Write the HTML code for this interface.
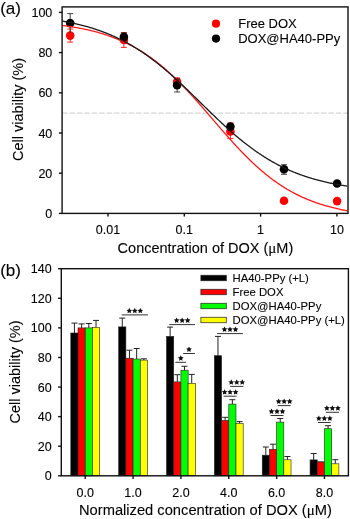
<!DOCTYPE html>
<html><head><meta charset="utf-8"><style>
html,body{margin:0;padding:0;background:#fff;}
svg{display:block;will-change:transform;}
text{font-family:"Liberation Sans", sans-serif;fill:#000;stroke:#000;stroke-width:0.1px;}
</style></head><body>
<svg width="350" height="519" viewBox="0 0 350 519">
<rect x="0" y="0" width="350" height="519" fill="#fff"/>
<line x1="62.1" y1="113.1" x2="348.0" y2="113.1" stroke="#d6d6d6" stroke-width="1.2" stroke-dasharray="5.5 1.9"/>
<g stroke="#ff0000" stroke-width="0.85"><line x1="70.2" y1="29.0" x2="70.2" y2="42.1"/><line x1="67.2" y1="29.0" x2="73.2" y2="29.0"/><line x1="67.2" y1="42.1" x2="73.2" y2="42.1"/></g>
<circle cx="70.2" cy="35.6" r="4.3" fill="#ff0000"/>
<g stroke="#ff0000" stroke-width="0.85"><line x1="123.9" y1="32.6" x2="123.9" y2="47.4"/><line x1="120.9" y1="32.6" x2="126.9" y2="32.6"/><line x1="120.9" y1="47.4" x2="126.9" y2="47.4"/></g>
<circle cx="123.9" cy="40.0" r="4.3" fill="#ff0000"/>
<g stroke="#ff0000" stroke-width="0.85"><line x1="177.1" y1="78.0" x2="177.1" y2="84.0"/><line x1="174.1" y1="78.0" x2="180.1" y2="78.0"/><line x1="174.1" y1="84.0" x2="180.1" y2="84.0"/></g>
<circle cx="177.1" cy="81.9" r="4.3" fill="#ff0000"/>
<g stroke="#ff0000" stroke-width="0.85"><line x1="230.4" y1="122.9" x2="230.4" y2="138.6"/><line x1="227.4" y1="122.9" x2="233.4" y2="122.9"/><line x1="227.4" y1="138.6" x2="233.4" y2="138.6"/></g>
<circle cx="230.4" cy="131.5" r="4.3" fill="#ff0000"/>
<g stroke="#ff0000" stroke-width="0.85"><line x1="284.0" y1="200.7" x2="284.0" y2="200.7"/><line x1="281.0" y1="200.7" x2="287.0" y2="200.7"/><line x1="281.0" y1="200.7" x2="287.0" y2="200.7"/></g>
<circle cx="284.0" cy="200.7" r="4.3" fill="#ff0000"/>
<g stroke="#ff0000" stroke-width="0.85"><line x1="337.1" y1="201.1" x2="337.1" y2="201.1"/><line x1="334.1" y1="201.1" x2="340.1" y2="201.1"/><line x1="334.1" y1="201.1" x2="340.1" y2="201.1"/></g>
<circle cx="337.1" cy="201.1" r="4.3" fill="#ff0000"/>
<g stroke="#222" stroke-width="0.85"><line x1="70.2" y1="13.6" x2="70.2" y2="33.0"/><line x1="67.2" y1="13.6" x2="73.2" y2="13.6"/></g>
<circle cx="70.2" cy="23.1" r="4.3" fill="#000"/>
<g stroke="#222" stroke-width="0.85"><line x1="123.9" y1="33.0" x2="123.9" y2="40.5"/><line x1="120.9" y1="33.0" x2="126.9" y2="33.0"/><line x1="120.9" y1="40.5" x2="126.9" y2="40.5"/></g>
<circle cx="123.9" cy="36.9" r="4.3" fill="#000"/>
<g stroke="#222" stroke-width="0.85"><line x1="177.1" y1="79.0" x2="177.1" y2="92.0"/><line x1="174.1" y1="79.0" x2="180.1" y2="79.0"/><line x1="174.1" y1="92.0" x2="180.1" y2="92.0"/></g>
<circle cx="177.1" cy="85.3" r="4.3" fill="#000"/>
<g stroke="#222" stroke-width="0.85"><line x1="230.4" y1="124.0" x2="230.4" y2="129.0"/><line x1="227.4" y1="124.0" x2="233.4" y2="124.0"/><line x1="227.4" y1="129.0" x2="233.4" y2="129.0"/></g>
<circle cx="230.4" cy="126.6" r="4.3" fill="#000"/>
<g stroke="#222" stroke-width="0.85"><line x1="284.0" y1="164.7" x2="284.0" y2="174.3"/><line x1="281.0" y1="164.7" x2="287.0" y2="164.7"/><line x1="281.0" y1="174.3" x2="287.0" y2="174.3"/></g>
<circle cx="284.0" cy="169.3" r="4.3" fill="#000"/>
<g stroke="#222" stroke-width="0.85"><line x1="337.1" y1="183.5" x2="337.1" y2="183.5"/><line x1="334.1" y1="183.5" x2="340.1" y2="183.5"/><line x1="334.1" y1="183.5" x2="340.1" y2="183.5"/></g>
<circle cx="337.1" cy="183.5" r="4.3" fill="#000"/>
<path d="M62.1,25.41 L63.1,25.54 L64.1,25.68 L65.1,25.81 L66.1,25.95 L67.1,26.10 L68.1,26.24 L69.1,26.39 L70.1,26.55 L71.1,26.70 L72.1,26.86 L73.1,27.03 L74.1,27.20 L75.1,27.37 L76.1,27.54 L77.1,27.72 L78.1,27.90 L79.1,28.09 L80.1,28.28 L81.1,28.47 L82.1,28.67 L83.1,28.88 L84.1,29.08 L85.1,29.29 L86.1,29.51 L87.1,29.73 L88.1,29.96 L89.1,30.19 L90.1,30.42 L91.1,30.66 L92.1,30.91 L93.1,31.16 L94.1,31.41 L95.1,31.67 L96.1,31.94 L97.1,32.21 L98.1,32.49 L99.1,32.77 L100.1,33.06 L101.1,33.36 L102.1,33.66 L103.1,33.96 L104.1,34.28 L105.1,34.60 L106.1,34.92 L107.1,35.25 L108.1,35.59 L109.1,35.94 L110.1,36.29 L111.1,36.65 L112.1,37.02 L113.1,37.39 L114.1,37.77 L115.1,38.16 L116.1,38.55 L117.1,38.96 L118.1,39.37 L119.1,39.79 L120.1,40.21 L121.1,40.65 L122.1,41.09 L123.1,41.54 L124.1,42.00 L125.1,42.47 L126.1,42.94 L127.1,43.43 L128.1,43.92 L129.1,44.42 L130.1,44.93 L131.1,45.45 L132.1,45.98 L133.1,46.52 L134.1,47.07 L135.1,47.62 L136.1,48.19 L137.1,48.77 L138.1,49.35 L139.1,49.95 L140.1,50.55 L141.1,51.16 L142.1,51.79 L143.1,52.42 L144.1,53.07 L145.1,53.72 L146.1,54.39 L147.1,55.06 L148.1,55.75 L149.1,56.44 L150.1,57.15 L151.1,57.86 L152.1,58.59 L153.1,59.33 L154.1,60.07 L155.1,60.83 L156.1,61.60 L157.1,62.38 L158.1,63.17 L159.1,63.97 L160.1,64.78 L161.1,65.60 L162.1,66.43 L163.1,67.27 L164.1,68.12 L165.1,68.98 L166.1,69.85 L167.1,70.73 L168.1,71.63 L169.1,72.53 L170.1,73.44 L171.1,74.36 L172.1,75.30 L173.1,76.24 L174.1,77.19 L175.1,78.15 L176.1,79.12 L177.1,80.10 L178.1,81.09 L179.1,82.08 L180.1,83.09 L181.1,84.10 L182.1,85.12 L183.1,86.16 L184.1,87.19 L185.1,88.24 L186.1,89.30 L187.1,90.36 L188.1,91.43 L189.1,92.50 L190.1,93.59 L191.1,94.68 L192.1,95.77 L193.1,96.87 L194.1,97.98 L195.1,99.09 L196.1,100.21 L197.1,101.34 L198.1,102.47 L199.1,103.60 L200.1,104.74 L201.1,105.88 L202.1,107.02 L203.1,108.17 L204.1,109.32 L205.1,110.47 L206.1,111.63 L207.1,112.79 L208.1,113.95 L209.1,115.11 L210.1,116.27 L211.1,117.43 L212.1,118.60 L213.1,119.76 L214.1,120.93 L215.1,122.09 L216.1,123.25 L217.1,124.42 L218.1,125.58 L219.1,126.73 L220.1,127.89 L221.1,129.05 L222.1,130.20 L223.1,131.35 L224.1,132.49 L225.1,133.63 L226.1,134.77 L227.1,135.91 L228.1,137.04 L229.1,138.16 L230.1,139.28 L231.1,140.40 L232.1,141.51 L233.1,142.61 L234.1,143.71 L235.1,144.80 L236.1,145.88 L237.1,146.96 L238.1,148.03 L239.1,149.10 L240.1,150.15 L241.1,151.20 L242.1,152.25 L243.1,153.28 L244.1,154.30 L245.1,155.32 L246.1,156.33 L247.1,157.33 L248.1,158.32 L249.1,159.30 L250.1,160.27 L251.1,161.24 L252.1,162.19 L253.1,163.14 L254.1,164.07 L255.1,165.00 L256.1,165.91 L257.1,166.82 L258.1,167.71 L259.1,168.60 L260.1,169.47 L261.1,170.34 L262.1,171.19 L263.1,172.04 L264.1,172.87 L265.1,173.69 L266.1,174.51 L267.1,175.31 L268.1,176.10 L269.1,176.88 L270.1,177.65 L271.1,178.41 L272.1,179.17 L273.1,179.91 L274.1,180.63 L275.1,181.35 L276.1,182.06 L277.1,182.76 L278.1,183.45 L279.1,184.13 L280.1,184.79 L281.1,185.45 L282.1,186.10 L283.1,186.74 L284.1,187.36 L285.1,187.98 L286.1,188.59 L287.1,189.19 L288.1,189.78 L289.1,190.35 L290.1,190.92 L291.1,191.48 L292.1,192.03 L293.1,192.57 L294.1,193.11 L295.1,193.63 L296.1,194.14 L297.1,194.65 L298.1,195.14 L299.1,195.63 L300.1,196.11 L301.1,196.58 L302.1,197.04 L303.1,197.49 L304.1,197.94 L305.1,198.37 L306.1,198.80 L307.1,199.22 L308.1,199.64 L309.1,200.04 L310.1,200.44 L311.1,200.83 L312.1,201.21 L313.1,201.59 L314.1,201.96 L315.1,202.32 L316.1,202.67 L317.1,203.02 L318.1,203.36 L319.1,203.70 L320.1,204.02 L321.1,204.35 L322.1,204.66 L323.1,204.97 L324.1,205.27 L325.1,205.57 L326.1,205.86 L327.1,206.14 L328.1,206.42 L329.1,206.70 L330.1,206.96 L331.1,207.23 L332.1,207.48 L333.1,207.74 L334.1,207.98 L335.1,208.22 L336.1,208.46 L337.1,208.69 L338.1,208.92 L339.1,209.14 L340.1,209.36 L341.1,209.57 L342.1,209.78 L343.1,209.99 L344.1,210.19 L345.1,210.38 L346.1,210.57 L347.1,210.76" fill="none" stroke="#ff1a1a" stroke-width="1.3"/>
<path d="M62.1,21.00 L63.1,21.18 L64.1,21.36 L65.1,21.55 L66.1,21.74 L67.1,21.93 L68.1,22.12 L69.1,22.32 L70.1,22.53 L71.1,22.74 L72.1,22.95 L73.1,23.16 L74.1,23.38 L75.1,23.61 L76.1,23.84 L77.1,24.07 L78.1,24.31 L79.1,24.55 L80.1,24.79 L81.1,25.04 L82.1,25.30 L83.1,25.56 L84.1,25.83 L85.1,26.10 L86.1,26.37 L87.1,26.65 L88.1,26.94 L89.1,27.23 L90.1,27.53 L91.1,27.83 L92.1,28.13 L93.1,28.45 L94.1,28.77 L95.1,29.09 L96.1,29.42 L97.1,29.76 L98.1,30.10 L99.1,30.44 L100.1,30.80 L101.1,31.16 L102.1,31.52 L103.1,31.90 L104.1,32.28 L105.1,32.66 L106.1,33.05 L107.1,33.45 L108.1,33.86 L109.1,34.27 L110.1,34.69 L111.1,35.11 L112.1,35.55 L113.1,35.99 L114.1,36.43 L115.1,36.89 L116.1,37.35 L117.1,37.82 L118.1,38.29 L119.1,38.78 L120.1,39.27 L121.1,39.76 L122.1,40.27 L123.1,40.78 L124.1,41.31 L125.1,41.83 L126.1,42.37 L127.1,42.92 L128.1,43.47 L129.1,44.03 L130.1,44.60 L131.1,45.17 L132.1,45.76 L133.1,46.35 L134.1,46.95 L135.1,47.56 L136.1,48.18 L137.1,48.80 L138.1,49.44 L139.1,50.08 L140.1,50.73 L141.1,51.38 L142.1,52.05 L143.1,52.72 L144.1,53.41 L145.1,54.10 L146.1,54.80 L147.1,55.50 L148.1,56.22 L149.1,56.94 L150.1,57.67 L151.1,58.41 L152.1,59.16 L153.1,59.91 L154.1,60.67 L155.1,61.44 L156.1,62.22 L157.1,63.01 L158.1,63.80 L159.1,64.60 L160.1,65.41 L161.1,66.22 L162.1,67.04 L163.1,67.87 L164.1,68.71 L165.1,69.55 L166.1,70.40 L167.1,71.26 L168.1,72.12 L169.1,72.99 L170.1,73.87 L171.1,74.75 L172.1,75.64 L173.1,76.53 L174.1,77.43 L175.1,78.34 L176.1,79.25 L177.1,80.16 L178.1,81.08 L179.1,82.01 L180.1,82.94 L181.1,83.87 L182.1,84.81 L183.1,85.75 L184.1,86.70 L185.1,87.65 L186.1,88.60 L187.1,89.56 L188.1,90.52 L189.1,91.49 L190.1,92.45 L191.1,93.42 L192.1,94.39 L193.1,95.36 L194.1,96.34 L195.1,97.31 L196.1,98.29 L197.1,99.27 L198.1,100.25 L199.1,101.23 L200.1,102.21 L201.1,103.19 L202.1,104.17 L203.1,105.15 L204.1,106.12 L205.1,107.10 L206.1,108.08 L207.1,109.06 L208.1,110.03 L209.1,111.01 L210.1,111.98 L211.1,112.95 L212.1,113.91 L213.1,114.88 L214.1,115.84 L215.1,116.80 L216.1,117.75 L217.1,118.71 L218.1,119.65 L219.1,120.60 L220.1,121.54 L221.1,122.48 L222.1,123.41 L223.1,124.34 L224.1,125.26 L225.1,126.18 L226.1,127.09 L227.1,128.00 L228.1,128.90 L229.1,129.80 L230.1,130.69 L231.1,131.57 L232.1,132.45 L233.1,133.32 L234.1,134.19 L235.1,135.05 L236.1,135.90 L237.1,136.75 L238.1,137.59 L239.1,138.42 L240.1,139.25 L241.1,140.07 L242.1,140.88 L243.1,141.68 L244.1,142.48 L245.1,143.27 L246.1,144.05 L247.1,144.82 L248.1,145.59 L249.1,146.35 L250.1,147.10 L251.1,147.84 L252.1,148.58 L253.1,149.30 L254.1,150.02 L255.1,150.73 L256.1,151.44 L257.1,152.13 L258.1,152.82 L259.1,153.49 L260.1,154.16 L261.1,154.83 L262.1,155.48 L263.1,156.13 L264.1,156.76 L265.1,157.39 L266.1,158.01 L267.1,158.63 L268.1,159.23 L269.1,159.83 L270.1,160.42 L271.1,161.00 L272.1,161.57 L273.1,162.13 L274.1,162.69 L275.1,163.24 L276.1,163.78 L277.1,164.31 L278.1,164.84 L279.1,165.35 L280.1,165.86 L281.1,166.37 L282.1,166.86 L283.1,167.35 L284.1,167.83 L285.1,168.30 L286.1,168.76 L287.1,169.22 L288.1,169.67 L289.1,170.12 L290.1,170.55 L291.1,170.98 L292.1,171.40 L293.1,171.82 L294.1,172.23 L295.1,172.63 L296.1,173.02 L297.1,173.41 L298.1,173.79 L299.1,174.17 L300.1,174.54 L301.1,174.90 L302.1,175.26 L303.1,175.61 L304.1,175.96 L305.1,176.29 L306.1,176.63 L307.1,176.95 L308.1,177.27 L309.1,177.59 L310.1,177.90 L311.1,178.20 L312.1,178.50 L313.1,178.80 L314.1,179.09 L315.1,179.37 L316.1,179.65 L317.1,179.92 L318.1,180.19 L319.1,180.45 L320.1,180.71 L321.1,180.96 L322.1,181.21 L323.1,181.45 L324.1,181.69 L325.1,181.93 L326.1,182.16 L327.1,182.39 L328.1,182.61 L329.1,182.83 L330.1,183.04 L331.1,183.25 L332.1,183.46 L333.1,183.66 L334.1,183.86 L335.1,184.05 L336.1,184.24 L337.1,184.43 L338.1,184.61 L339.1,184.79 L340.1,184.96 L341.1,185.14 L342.1,185.31 L343.1,185.47 L344.1,185.64 L345.1,185.79 L346.1,185.95 L347.1,186.10" fill="none" stroke="#1a1a1a" stroke-width="1.3"/>
<rect x="62.1" y="6.9" width="285.9" height="206.5" fill="none" stroke="#111" stroke-width="1.4"/>
<line x1="58.9" y1="213.40" x2="62.1" y2="213.40" stroke="#111" stroke-width="1.4"/>
<text x="52.3" y="217.90" text-anchor="end" font-size="12.5">0</text>
<line x1="58.9" y1="173.20" x2="62.1" y2="173.20" stroke="#111" stroke-width="1.4"/>
<text x="52.3" y="177.70" text-anchor="end" font-size="12.5">20</text>
<line x1="58.9" y1="133.00" x2="62.1" y2="133.00" stroke="#111" stroke-width="1.4"/>
<text x="52.3" y="137.50" text-anchor="end" font-size="12.5">40</text>
<line x1="58.9" y1="92.80" x2="62.1" y2="92.80" stroke="#111" stroke-width="1.4"/>
<text x="52.3" y="97.30" text-anchor="end" font-size="12.5">60</text>
<line x1="58.9" y1="52.60" x2="62.1" y2="52.60" stroke="#111" stroke-width="1.4"/>
<text x="52.3" y="57.10" text-anchor="end" font-size="12.5">80</text>
<line x1="58.9" y1="12.40" x2="62.1" y2="12.40" stroke="#111" stroke-width="1.4"/>
<text x="52.3" y="16.90" text-anchor="end" font-size="12.5">100</text>
<line x1="108.00" y1="213.4" x2="108.00" y2="216.6" stroke="#111" stroke-width="1.4"/>
<text x="108.00" y="234.4" text-anchor="middle" font-size="12.5">0.01</text>
<line x1="184.30" y1="213.4" x2="184.30" y2="216.6" stroke="#111" stroke-width="1.4"/>
<text x="184.30" y="234.4" text-anchor="middle" font-size="12.5">0.1</text>
<line x1="260.60" y1="213.4" x2="260.60" y2="216.6" stroke="#111" stroke-width="1.4"/>
<text x="260.60" y="234.4" text-anchor="middle" font-size="12.5">1</text>
<line x1="336.90" y1="213.4" x2="336.90" y2="216.6" stroke="#111" stroke-width="1.4"/>
<text x="336.90" y="234.4" text-anchor="middle" font-size="12.5">10</text>
<text x="117.6" y="252.9" font-size="14.5">Concentration of DOX (<tspan font-family="Liberation Serif" font-size="15">μ</tspan>M)</text>
<text transform="translate(23.2,109.5) rotate(-90)" text-anchor="middle" font-size="14.5">Cell viability (%)</text>
<text x="0.2" y="13.6" font-size="17">(a)</text>
<circle cx="216" cy="23.7" r="4.1" fill="#ff0000"/>
<circle cx="216" cy="38.6" r="4.1" fill="#000"/>
<text x="238.2" y="27.8" font-size="13">Free DOX</text>
<text x="238.2" y="42.6" font-size="13">DOX@HA40-PPy</text>
<g stroke="#222" stroke-width="1"><line x1="74.42" y1="323.1" x2="74.42" y2="333.0"/><line x1="71.42" y1="323.1" x2="77.42" y2="323.1"/></g>
<rect x="70.82" y="333.0" width="7.2" height="142.80" fill="#000000" stroke="#222" stroke-width="0.6"/>
<g stroke="#222" stroke-width="1"><line x1="81.62" y1="323.9" x2="81.62" y2="327.9"/><line x1="78.62" y1="323.9" x2="84.62" y2="323.9"/></g>
<rect x="78.02" y="327.9" width="7.2" height="147.90" fill="#ff0000" stroke="#222" stroke-width="0.6"/>
<g stroke="#222" stroke-width="1"><line x1="88.82" y1="323.5" x2="88.82" y2="327.9"/><line x1="85.82" y1="323.5" x2="91.82" y2="323.5"/></g>
<rect x="85.22" y="327.9" width="7.2" height="147.90" fill="#00ff00" stroke="#222" stroke-width="0.6"/>
<g stroke="#222" stroke-width="1"><line x1="96.02" y1="320.4" x2="96.02" y2="327.3"/><line x1="93.02" y1="320.4" x2="99.02" y2="320.4"/></g>
<rect x="92.42" y="327.3" width="7.2" height="148.50" fill="#ffff00" stroke="#222" stroke-width="0.6"/>
<g stroke="#222" stroke-width="1"><line x1="122.27" y1="318.1" x2="122.27" y2="326.9"/><line x1="119.27" y1="318.1" x2="125.27" y2="318.1"/></g>
<rect x="118.67" y="326.9" width="7.2" height="148.90" fill="#000000" stroke="#222" stroke-width="0.6"/>
<g stroke="#222" stroke-width="1"><line x1="129.47" y1="350.2" x2="129.47" y2="358.2"/><line x1="126.47" y1="350.2" x2="132.47" y2="350.2"/></g>
<rect x="125.87" y="358.2" width="7.2" height="117.60" fill="#ff0000" stroke="#222" stroke-width="0.6"/>
<g stroke="#222" stroke-width="1"><line x1="136.67" y1="348.5" x2="136.67" y2="359.0"/><line x1="133.67" y1="348.5" x2="139.67" y2="348.5"/></g>
<rect x="133.07" y="359.0" width="7.2" height="116.80" fill="#00ff00" stroke="#222" stroke-width="0.6"/>
<g stroke="#222" stroke-width="1"><line x1="143.87" y1="358.8" x2="143.87" y2="360.1"/><line x1="140.87" y1="358.8" x2="146.87" y2="358.8"/></g>
<rect x="140.27" y="360.1" width="7.2" height="115.70" fill="#ffff00" stroke="#222" stroke-width="0.6"/>
<g stroke="#222" stroke-width="1"><line x1="170.12" y1="327.1" x2="170.12" y2="336.4"/><line x1="167.12" y1="327.1" x2="173.12" y2="327.1"/></g>
<rect x="166.52" y="336.4" width="7.2" height="139.40" fill="#000000" stroke="#222" stroke-width="0.6"/>
<g stroke="#222" stroke-width="1"><line x1="177.32" y1="374.7" x2="177.32" y2="381.9"/><line x1="174.32" y1="374.7" x2="180.32" y2="374.7"/></g>
<rect x="173.72" y="381.9" width="7.2" height="93.90" fill="#ff0000" stroke="#222" stroke-width="0.6"/>
<g stroke="#222" stroke-width="1"><line x1="184.52" y1="366.3" x2="184.52" y2="370.2"/><line x1="181.52" y1="366.3" x2="187.52" y2="366.3"/></g>
<rect x="180.92" y="370.2" width="7.2" height="105.60" fill="#00ff00" stroke="#222" stroke-width="0.6"/>
<g stroke="#222" stroke-width="1"><line x1="191.72" y1="374.4" x2="191.72" y2="383.3"/><line x1="188.72" y1="374.4" x2="194.72" y2="374.4"/></g>
<rect x="188.12" y="383.3" width="7.2" height="92.50" fill="#ffff00" stroke="#222" stroke-width="0.6"/>
<g stroke="#222" stroke-width="1"><line x1="217.97" y1="336.4" x2="217.97" y2="355.7"/><line x1="214.97" y1="336.4" x2="220.97" y2="336.4"/></g>
<rect x="214.37" y="355.7" width="7.2" height="120.10" fill="#000000" stroke="#222" stroke-width="0.6"/>
<g stroke="#222" stroke-width="1"><line x1="225.17" y1="417.3" x2="225.17" y2="420.4"/><line x1="222.17" y1="417.3" x2="228.17" y2="417.3"/></g>
<rect x="221.57" y="420.4" width="7.2" height="55.40" fill="#ff0000" stroke="#222" stroke-width="0.6"/>
<g stroke="#222" stroke-width="1"><line x1="232.37" y1="399.7" x2="232.37" y2="404.1"/><line x1="229.37" y1="399.7" x2="235.37" y2="399.7"/></g>
<rect x="228.77" y="404.1" width="7.2" height="71.70" fill="#00ff00" stroke="#222" stroke-width="0.6"/>
<g stroke="#222" stroke-width="1"><line x1="239.57" y1="421.6" x2="239.57" y2="423.3"/><line x1="236.57" y1="421.6" x2="242.57" y2="421.6"/></g>
<rect x="235.97" y="423.3" width="7.2" height="52.50" fill="#ffff00" stroke="#222" stroke-width="0.6"/>
<g stroke="#222" stroke-width="1"><line x1="265.83" y1="447.0" x2="265.83" y2="455.2"/><line x1="262.83" y1="447.0" x2="268.83" y2="447.0"/></g>
<rect x="262.23" y="455.2" width="7.2" height="20.60" fill="#000000" stroke="#222" stroke-width="0.6"/>
<g stroke="#222" stroke-width="1"><line x1="273.03" y1="444.2" x2="273.03" y2="449.3"/><line x1="270.03" y1="444.2" x2="276.03" y2="444.2"/></g>
<rect x="269.43" y="449.3" width="7.2" height="26.50" fill="#ff0000" stroke="#222" stroke-width="0.6"/>
<g stroke="#222" stroke-width="1"><line x1="280.23" y1="418.5" x2="280.23" y2="422.1"/><line x1="277.23" y1="418.5" x2="283.23" y2="418.5"/></g>
<rect x="276.62" y="422.1" width="7.2" height="53.70" fill="#00ff00" stroke="#222" stroke-width="0.6"/>
<g stroke="#222" stroke-width="1"><line x1="287.43" y1="456.5" x2="287.43" y2="459.8"/><line x1="284.43" y1="456.5" x2="290.43" y2="456.5"/></g>
<rect x="283.83" y="459.8" width="7.2" height="16.00" fill="#ffff00" stroke="#222" stroke-width="0.6"/>
<g stroke="#222" stroke-width="1"><line x1="313.68" y1="453.5" x2="313.68" y2="459.9"/><line x1="310.68" y1="453.5" x2="316.68" y2="453.5"/></g>
<rect x="310.07" y="459.9" width="7.2" height="15.90" fill="#000000" stroke="#222" stroke-width="0.6"/>
<g stroke="#222" stroke-width="1"><line x1="320.88" y1="462.0" x2="320.88" y2="462.0"/><line x1="317.88" y1="462.0" x2="323.88" y2="462.0"/></g>
<rect x="317.27" y="462.0" width="7.2" height="13.80" fill="#ff0000" stroke="#222" stroke-width="0.6"/>
<g stroke="#222" stroke-width="1"><line x1="328.07" y1="425.7" x2="328.07" y2="428.7"/><line x1="325.07" y1="425.7" x2="331.07" y2="425.7"/></g>
<rect x="324.47" y="428.7" width="7.2" height="47.10" fill="#00ff00" stroke="#222" stroke-width="0.6"/>
<g stroke="#222" stroke-width="1"><line x1="335.28" y1="459.7" x2="335.28" y2="463.8"/><line x1="332.28" y1="459.7" x2="338.28" y2="459.7"/></g>
<rect x="331.68" y="463.8" width="7.2" height="12.00" fill="#ffff00" stroke="#222" stroke-width="0.6"/>
<rect x="61.3" y="268.7" width="287.10" height="207.10" fill="none" stroke="#111" stroke-width="1.4"/>
<line x1="58.099999999999994" y1="475.80" x2="61.3" y2="475.80" stroke="#111" stroke-width="1.4"/>
<text x="51.6" y="480.30" text-anchor="end" font-size="12.5">0</text>
<line x1="58.099999999999994" y1="446.21" x2="61.3" y2="446.21" stroke="#111" stroke-width="1.4"/>
<text x="51.6" y="450.71" text-anchor="end" font-size="12.5">20</text>
<line x1="58.099999999999994" y1="416.63" x2="61.3" y2="416.63" stroke="#111" stroke-width="1.4"/>
<text x="51.6" y="421.13" text-anchor="end" font-size="12.5">40</text>
<line x1="58.099999999999994" y1="387.04" x2="61.3" y2="387.04" stroke="#111" stroke-width="1.4"/>
<text x="51.6" y="391.54" text-anchor="end" font-size="12.5">60</text>
<line x1="58.099999999999994" y1="357.46" x2="61.3" y2="357.46" stroke="#111" stroke-width="1.4"/>
<text x="51.6" y="361.96" text-anchor="end" font-size="12.5">80</text>
<line x1="58.099999999999994" y1="327.87" x2="61.3" y2="327.87" stroke="#111" stroke-width="1.4"/>
<text x="51.6" y="332.37" text-anchor="end" font-size="12.5">100</text>
<line x1="58.099999999999994" y1="298.29" x2="61.3" y2="298.29" stroke="#111" stroke-width="1.4"/>
<text x="51.6" y="302.79" text-anchor="end" font-size="12.5">120</text>
<line x1="58.099999999999994" y1="268.70" x2="61.3" y2="268.70" stroke="#111" stroke-width="1.4"/>
<text x="51.6" y="273.20" text-anchor="end" font-size="12.5">140</text>
<line x1="85.22" y1="475.8" x2="85.22" y2="479.0" stroke="#111" stroke-width="1.4"/>
<text x="85.22" y="497.1" text-anchor="middle" font-size="12.5">0.0</text>
<line x1="133.07" y1="475.8" x2="133.07" y2="479.0" stroke="#111" stroke-width="1.4"/>
<text x="133.07" y="497.1" text-anchor="middle" font-size="12.5">1.0</text>
<line x1="180.92" y1="475.8" x2="180.92" y2="479.0" stroke="#111" stroke-width="1.4"/>
<text x="180.92" y="497.1" text-anchor="middle" font-size="12.5">2.0</text>
<line x1="228.77" y1="475.8" x2="228.77" y2="479.0" stroke="#111" stroke-width="1.4"/>
<text x="228.77" y="497.1" text-anchor="middle" font-size="12.5">4.0</text>
<line x1="276.62" y1="475.8" x2="276.62" y2="479.0" stroke="#111" stroke-width="1.4"/>
<text x="276.62" y="497.1" text-anchor="middle" font-size="12.5">6.0</text>
<line x1="324.47" y1="475.8" x2="324.47" y2="479.0" stroke="#111" stroke-width="1.4"/>
<text x="324.47" y="497.1" text-anchor="middle" font-size="12.5">8.0</text>
<text x="79.0" y="515.2" font-size="14.7">Normalized concentration of DOX (<tspan font-family="Liberation Serif" font-size="15">μ</tspan>M)</text>
<text transform="translate(20.2,372) rotate(-90)" text-anchor="middle" font-size="14.5">Cell viability (%)</text>
<text x="0.2" y="275.9" font-size="17">(b)</text>
<rect x="200.9" y="275.25" width="25.4" height="5.5" fill="#000000" stroke="#222" stroke-width="0.7"/>
<text x="232.6" y="281.5" font-size="11.3">HA40-PPy (+L)</text>
<rect x="200.9" y="289.25" width="25.4" height="5.5" fill="#ff0000" stroke="#222" stroke-width="0.7"/>
<text x="232.6" y="295.5" font-size="11.3">Free DOX</text>
<rect x="200.9" y="303.25" width="25.4" height="5.5" fill="#00ff00" stroke="#222" stroke-width="0.7"/>
<text x="232.6" y="309.5" font-size="11.3">DOX@HA40-PPy</text>
<rect x="200.9" y="317.25" width="25.4" height="5.5" fill="#ffff00" stroke="#222" stroke-width="0.7"/>
<text x="232.6" y="323.5" font-size="11.3">DOX@HA40-PPy (+L)</text>
<line x1="121.7" y1="314.9" x2="147.9" y2="314.9" stroke="#333" stroke-width="1"/>
<polygon points="129.30,307.85 130.18,309.64 132.15,309.92 130.73,311.31 131.06,313.28 129.30,312.35 127.54,313.28 127.87,311.31 126.45,309.92 128.42,309.64" fill="#111"/>
<polygon points="134.80,307.85 135.68,309.64 137.65,309.92 136.23,311.31 136.56,313.28 134.80,312.35 133.04,313.28 133.37,311.31 131.95,309.92 133.92,309.64" fill="#111"/>
<polygon points="140.30,307.85 141.18,309.64 143.15,309.92 141.73,311.31 142.06,313.28 140.30,312.35 138.54,313.28 138.87,311.31 137.45,309.92 139.42,309.64" fill="#111"/>
<line x1="169.3" y1="324.6" x2="195.0" y2="324.6" stroke="#333" stroke-width="1"/>
<polygon points="176.65,317.55 177.53,319.34 179.50,319.62 178.08,321.01 178.41,322.98 176.65,322.05 174.89,322.98 175.22,321.01 173.80,319.62 175.77,319.34" fill="#111"/>
<polygon points="182.15,317.55 183.03,319.34 185.00,319.62 183.58,321.01 183.91,322.98 182.15,322.05 180.39,322.98 180.72,321.01 179.30,319.62 181.27,319.34" fill="#111"/>
<polygon points="187.65,317.55 188.53,319.34 190.50,319.62 189.08,321.01 189.41,322.98 187.65,322.05 185.89,322.98 186.22,321.01 184.80,319.62 186.77,319.34" fill="#111"/>
<line x1="175.4" y1="362.3" x2="186.1" y2="362.3" stroke="#333" stroke-width="1"/>
<polygon points="180.75,355.25 181.63,357.04 183.60,357.32 182.18,358.71 182.51,360.68 180.75,359.75 178.99,360.68 179.32,358.71 177.90,357.32 179.87,357.04" fill="#111"/>
<line x1="183.1" y1="353.5" x2="194.9" y2="353.5" stroke="#333" stroke-width="1"/>
<polygon points="189.00,346.45 189.88,348.24 191.85,348.52 190.43,349.91 190.76,351.88 189.00,350.95 187.24,351.88 187.57,349.91 186.15,348.52 188.12,348.24" fill="#111"/>
<line x1="217.1" y1="333.6" x2="242.9" y2="333.6" stroke="#333" stroke-width="1"/>
<polygon points="224.50,326.55 225.38,328.34 227.35,328.62 225.93,330.01 226.26,331.98 224.50,331.05 222.74,331.98 223.07,330.01 221.65,328.62 223.62,328.34" fill="#111"/>
<polygon points="230.00,326.55 230.88,328.34 232.85,328.62 231.43,330.01 231.76,331.98 230.00,331.05 228.24,331.98 228.57,330.01 227.15,328.62 229.12,328.34" fill="#111"/>
<polygon points="235.50,326.55 236.38,328.34 238.35,328.62 236.93,330.01 237.26,331.98 235.50,331.05 233.74,331.98 234.07,330.01 232.65,328.62 234.62,328.34" fill="#111"/>
<line x1="230.2" y1="386.4" x2="243.3" y2="386.4" stroke="#333" stroke-width="1"/>
<polygon points="231.25,379.35 232.13,381.14 234.10,381.42 232.68,382.81 233.01,384.78 231.25,383.85 229.49,384.78 229.82,382.81 228.40,381.42 230.37,381.14" fill="#111"/>
<polygon points="236.75,379.35 237.63,381.14 239.60,381.42 238.18,382.81 238.51,384.78 236.75,383.85 234.99,384.78 235.32,382.81 233.90,381.42 235.87,381.14" fill="#111"/>
<polygon points="242.25,379.35 243.13,381.14 245.10,381.42 243.68,382.81 244.01,384.78 242.25,383.85 240.49,384.78 240.82,382.81 239.40,381.42 241.37,381.14" fill="#111"/>
<line x1="223.6" y1="396.2" x2="236.6" y2="396.2" stroke="#333" stroke-width="1"/>
<polygon points="224.60,389.15 225.48,390.94 227.45,391.22 226.03,392.61 226.36,394.58 224.60,393.65 222.84,394.58 223.17,392.61 221.75,391.22 223.72,390.94" fill="#111"/>
<polygon points="230.10,389.15 230.98,390.94 232.95,391.22 231.53,392.61 231.86,394.58 230.10,393.65 228.34,394.58 228.67,392.61 227.25,391.22 229.22,390.94" fill="#111"/>
<polygon points="235.60,389.15 236.48,390.94 238.45,391.22 237.03,392.61 237.36,394.58 235.60,393.65 233.84,394.58 234.17,392.61 232.75,391.22 234.72,390.94" fill="#111"/>
<line x1="277.7" y1="405.6" x2="290.6" y2="405.6" stroke="#333" stroke-width="1"/>
<polygon points="278.65,398.55 279.53,400.34 281.50,400.62 280.08,402.01 280.41,403.98 278.65,403.05 276.89,403.98 277.22,402.01 275.80,400.62 277.77,400.34" fill="#111"/>
<polygon points="284.15,398.55 285.03,400.34 287.00,400.62 285.58,402.01 285.91,403.98 284.15,403.05 282.39,403.98 282.72,402.01 281.30,400.62 283.27,400.34" fill="#111"/>
<polygon points="289.65,398.55 290.53,400.34 292.50,400.62 291.08,402.01 291.41,403.98 289.65,403.05 287.89,403.98 288.22,402.01 286.80,400.62 288.77,400.34" fill="#111"/>
<line x1="270.6" y1="415.5" x2="283.4" y2="415.5" stroke="#333" stroke-width="1"/>
<polygon points="271.50,408.45 272.38,410.24 274.35,410.52 272.93,411.91 273.26,413.88 271.50,412.95 269.74,413.88 270.07,411.91 268.65,410.52 270.62,410.24" fill="#111"/>
<polygon points="277.00,408.45 277.88,410.24 279.85,410.52 278.43,411.91 278.76,413.88 277.00,412.95 275.24,413.88 275.57,411.91 274.15,410.52 276.12,410.24" fill="#111"/>
<polygon points="282.50,408.45 283.38,410.24 285.35,410.52 283.93,411.91 284.26,413.88 282.50,412.95 280.74,413.88 281.07,411.91 279.65,410.52 281.62,410.24" fill="#111"/>
<line x1="325.8" y1="412.3" x2="339.0" y2="412.3" stroke="#333" stroke-width="1"/>
<polygon points="326.90,405.25 327.78,407.04 329.75,407.32 328.33,408.71 328.66,410.68 326.90,409.75 325.14,410.68 325.47,408.71 324.05,407.32 326.02,407.04" fill="#111"/>
<polygon points="332.40,405.25 333.28,407.04 335.25,407.32 333.83,408.71 334.16,410.68 332.40,409.75 330.64,410.68 330.97,408.71 329.55,407.32 331.52,407.04" fill="#111"/>
<polygon points="337.90,405.25 338.78,407.04 340.75,407.32 339.33,408.71 339.66,410.68 337.90,409.75 336.14,410.68 336.47,408.71 335.05,407.32 337.02,407.04" fill="#111"/>
<line x1="318.0" y1="422.5" x2="330.7" y2="422.5" stroke="#333" stroke-width="1"/>
<polygon points="318.85,415.45 319.73,417.24 321.70,417.52 320.28,418.91 320.61,420.88 318.85,419.95 317.09,420.88 317.42,418.91 316.00,417.52 317.97,417.24" fill="#111"/>
<polygon points="324.35,415.45 325.23,417.24 327.20,417.52 325.78,418.91 326.11,420.88 324.35,419.95 322.59,420.88 322.92,418.91 321.50,417.52 323.47,417.24" fill="#111"/>
<polygon points="329.85,415.45 330.73,417.24 332.70,417.52 331.28,418.91 331.61,420.88 329.85,419.95 328.09,420.88 328.42,418.91 327.00,417.52 328.97,417.24" fill="#111"/>
</svg>
</body></html>
